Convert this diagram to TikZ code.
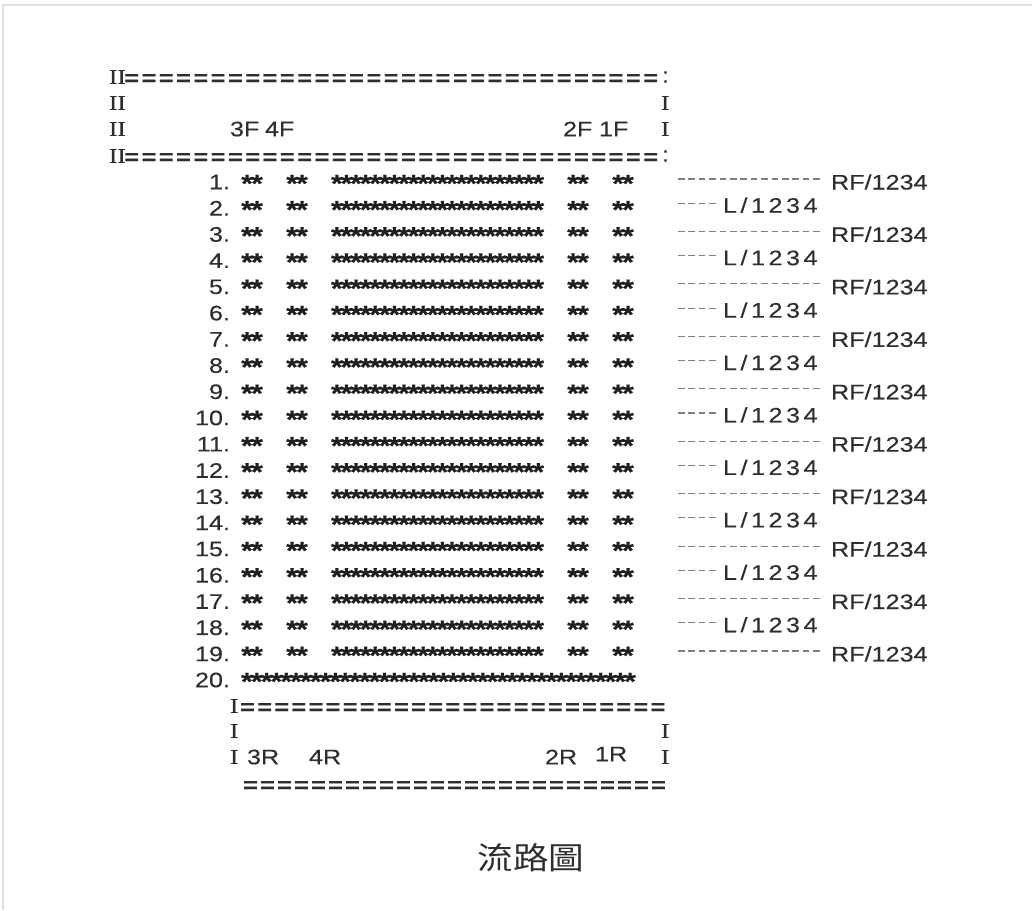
\documentclass[tikz,border=0pt]{standalone}
\usepackage{fontspec}
\setmainfont[FakeStretch=1.2,FakeBold=0.3]{Liberation Sans}
\newfontfamily\romanI[FakeStretch=1.2,FakeBold=0.3]{Liberation Serif}
\newfontfamily\cjk[FakeStretch=1.15]{Noto Sans CJK TC}
\newcommand\myrep[3]{\hbox{\foreach \rr in {1,...,#1}{\hbox to #2pt{\hss#3\hss}}}}
\colorlet{ink}{black!82}
\begin{document}
\begin{tikzpicture}[x=1pt,y=-1pt,
  txt/.style={inner sep=0pt, outer sep=0pt, text=ink, font=\fontsize{21}{24}\selectfont},
  romn/.style={inner sep=0pt, outer sep=0pt, text=ink, font=\romanI\fontsize{21}{24}\selectfont, anchor=west},
  eqs/.style={inner sep=0pt, outer sep=0pt, text=ink, font=\bfseries\fontsize{21}{24}\selectfont, anchor=base west},
  stars/.style={inner sep=0pt, outer sep=0pt, text=black!88, font=\bfseries\fontsize{25}{25}\selectfont, anchor=base west},
  dashline/.style={draw=black!50, line width=1.1pt, dash pattern=on 6.5pt off 3.9pt},
  frame/.style={draw=black!12, line width=1.5pt}]
\useasboundingbox (0,0) rectangle (1032,910);
\draw[frame] (3,910) -- (3,5) -- (1032,5);
% top box
\node[romn] (tl1) at (109,77) {II};
\node[eqs] (te1) at (123,85) {\myrep{31}{17.3}{=}};
\node[txt, anchor=west] (tc1) at (662,77) {:};
\node[romn] (tl2) at (109,103) {II};
\node[romn] (tr2) at (661,103) {I};
\node[romn] (tl3) at (109,129) {II};
\node[txt, anchor=west] (f3) at (230,129) {3F};
\node[txt, anchor=west] (f4) at (265,129) {4F};
\node[txt, anchor=west] (f2) at (563,129) {2F};
\node[txt, anchor=west] (f1) at (599,129) {1F};
\node[romn] (tr3) at (661,129) {I};
\node[romn] (tl4) at (109,156) {II};
\node[eqs] (te4) at (123,164) {\myrep{31}{17.3}{=}};
\node[txt, anchor=west] (tc4) at (662,156) {:};
% rows
\foreach \i in {1,...,19}{
  \pgfmathsetmacro\yy{182+(\i-1)*26.22}
  \node[txt, anchor=east] (n\i) at (230,\yy) {\i.};
  \node[stars] (a\i) at (242,\yy+10) {\myrep{2}{10}{*}};
  \node[stars] (b\i) at (287,\yy+10) {\myrep{2}{10}{*}};
  \node[stars] (c\i) at (332,\yy+10) {\myrep{22}{9.6}{*}};
  \node[stars] (d\i) at (568,\yy+10) {\myrep{2}{10}{*}};
  \node[stars] (e\i) at (613,\yy+10) {\myrep{2}{10}{*}};
  \ifodd\i\relax
    \node[txt, anchor=west] (r\i) at (831,\yy) {RF/1234};
    \coordinate (p\i) at (678,\yy-3);
    \coordinate (q\i) at (823,\yy-3);
    \draw[dashline] (p\i) -- (q\i);
  \else
    \node[txt, anchor=west] (r\i) at (723,\yy-3) {L\hspace{3.5pt}/\hspace{3.5pt}1\hspace{3.5pt}2\hspace{3.5pt}3\hspace{3.5pt}4};
    \coordinate (p\i) at (678,\yy-5);
    \coordinate (q\i) at (718,\yy-5);
    \draw[dashline] (p\i) -- (q\i);
  \fi
}
\node[txt, anchor=east] (n20) at (230,680) {20.};
\node[stars] (a20) at (242,690) {\myrep{40}{9.83}{*}};
% bottom box
\node[romn] (bl1) at (230,706) {I};
\node[eqs] (be1) at (239,714) {\myrep{25}{17.1}{=}};
\node[romn] (bl2) at (230,731) {I};
\node[romn] (br2) at (661,731) {I};
\node[romn] (bl3) at (230,757) {I};
\node[txt, anchor=west] (r3) at (247,757) {3R};
\node[txt, anchor=west] (r4) at (309,757) {4R};
\node[txt, anchor=west] (r2) at (545,757) {2R};
\node[txt, anchor=west] (r1) at (595,754) {1R};
\node[romn] (br3) at (661,757) {I};
\node[eqs] (be4) at (242,792) {\myrep{25}{17}{=}};
% title
\node[inner sep=0pt, text=ink, font=\cjk\fontsize{31}{31}\selectfont] (title) at (531,858) {流路圖};
\end{tikzpicture}
\end{document}
